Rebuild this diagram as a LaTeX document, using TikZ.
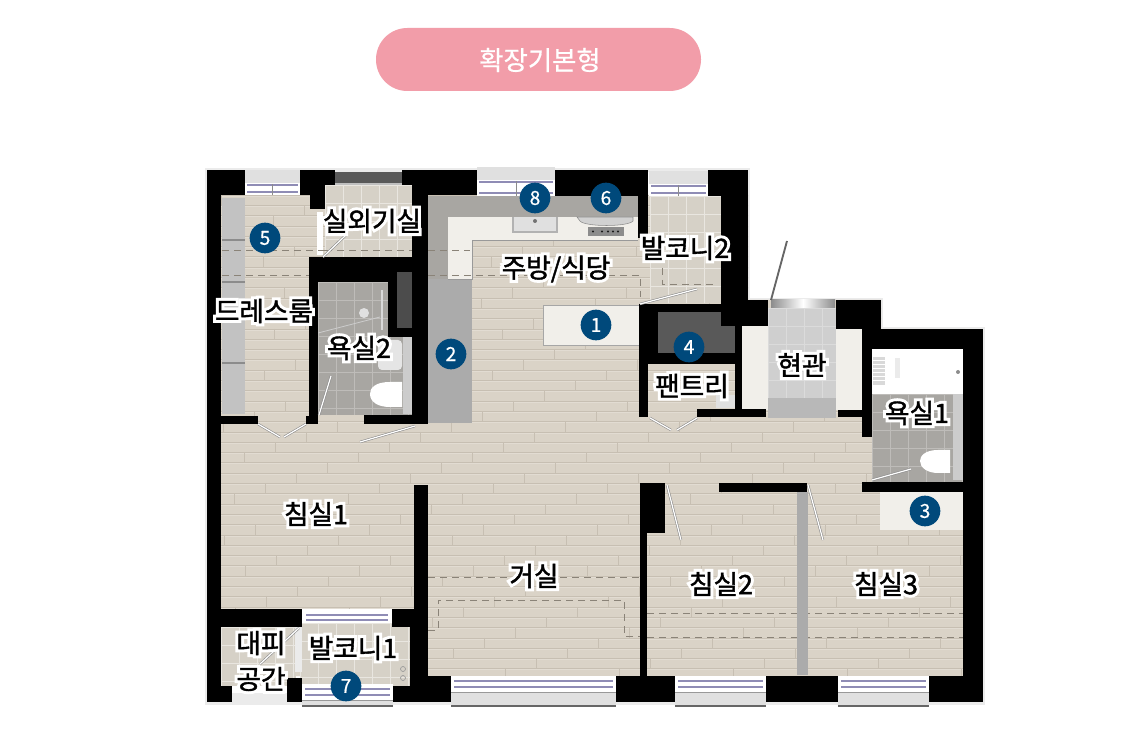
\documentclass[tikz,border=0pt]{standalone}
\usepackage{fontspec}
\setmainfont{Noto Sans CJK KR}[FakeBold=1.5]
\newfontfamily\plainkr{Noto Sans CJK KR}[FakeBold=0.6]
\newfontfamily\halofont{Noto Sans CJK KR}[FakeBold=24]
\usetikzlibrary{calc}
\definecolor{floorc}{HTML}{DAD3C7}
\definecolor{plank}{HTML}{C7BFB2}
\definecolor{plankhi}{HTML}{E2DCD2}
\definecolor{balc}{HTML}{D6D1C7}
\definecolor{bathc}{HTML}{A8A6A2}
\definecolor{countergray}{HTML}{A8A6A2}
\definecolor{whitec}{HTML}{F1EFEA}
\definecolor{badgec}{HTML}{00497B}
\definecolor{pillc}{HTML}{F29DA9}
\definecolor{glassline}{HTML}{8F8CB5}
\definecolor{dashc}{HTML}{8A8378}
\newcommand\halo[1]{\rlap{\halofont\color{white}#1}#1}
\newcommand\R[5]{\fill[#1] (#2,#3) rectangle (#4,#5);}
\newcommand\tiles[6]{\begin{scope}\clip (#1,#2) rectangle (#3,#4);\fill[#5] (#1,#2) rectangle (#3,#4);
 \foreach \k in {0,...,9}{\draw[#6,line width=.5pt] ({#1+\k*18},#2) -- ({#1+\k*18},#4);\draw[#6,line width=.5pt] (#1,{#2+\k*18}) -- (#3,{#2+\k*18});}\end{scope}}
\newcommand\topwin[4]{\R{black!12}{#1}{#3}{#2}{#3+13}\R{white}{#1}{#3+13}{#2}{#4}
 \draw[glassline,line width=.8pt] (#1+2,#3+15) -- (#2-2,#3+15) (#1+2,#4-3) -- (#2-2,#4-3);
 \draw[black!45,line width=.5pt] ({(#1+#2)/2},#3+14) -- ({(#1+#2)/2},#4);}
\newcommand\botwin[4]{\R{white}{#1}{#3}{#2}{#3+17}\R{black!12}{#1}{#3+17}{#2}{#4}
 \draw[glassline,line width=.8pt] (#1+3,#3+5) -- (#2-3,#3+5) (#1+3,#3+11) -- (#2-3,#3+11);
 \draw[black!40,line width=.6pt] (#1,#3+16) -- (#2,#3+16);
 \draw[black!60,line width=1pt] (#1,#4) -- (#2,#4);}
\tikzset{
 lab/.style={font=\fontsize{20}{27}\selectfont,text=black,inner sep=0pt,align=center},
 badge/.style={circle,fill=badgec,text=white,minimum size=23pt,inner sep=0pt,font=\plainkr\fontsize{14.5}{14.5}\selectfont},
 door/.style={draw=black!45,double=white,double distance=.9pt,line width=.45pt},
 dashl/.style={draw=dashc,line width=.6pt,dash pattern=on 5pt off 4pt},
 wall/.style={fill=black},
}
\begin{document}
\begin{tikzpicture}[x=0.75pt,y=-0.75pt]
\useasboundingbox (0,0) rectangle (1133,752);
\fill[white] (0,0) rectangle (1133,752);
% title pill
\fill[pillc,rounded corners=23.5pt] (376,28) rectangle (701,91);
\node[inner sep=0pt,text=white,font=\plainkr\fontsize{19.8}{20}\selectfont] (title) at (540,60) {확장기본형};
% soft outer edge
\draw[black!8,line width=2.5pt] (207,170)--(748,170)--(748,300)--(881,300)--(881,329)--(983,329)--(983,703)--(207,703)--cycle;
% floor with planks
\begin{scope}
\clip (221,195)--(748,195)--(748,300)--(881,300)--(881,329)--(965,329)--(965,676)--(221,676)--cycle;
\fill[floorc] (207,170) rectangle (983,702);
\foreach \r in {0,...,47}{
 \pgfmathsetmacro\yy{195+\r*10.3}
 \pgfmathsetmacro\off{mod(\r*83,114)}
 \draw[plankhi,line width=.5pt] (221,\yy+1) -- (965,\yy+1);
 \draw[plank,line width=.5pt] (221,\yy) -- (965,\yy);
 \foreach \k in {-1,...,6}{
  \pgfmathsetmacro\xx{221+\off+\k*114}
  \draw[plank,line width=.5pt] (\xx,\yy) -- (\xx,\yy+10.3);
 }
}
\end{scope}
% tiled rooms
\tiles{325}{185}{412}{257}{balc}{white!45!balc}
\tiles{650}{196}{721}{303}{balc}{white!45!balc}
\tiles{300}{623}{410}{686}{balc}{white!45!balc}
\tiles{221}{627}{296}{686}{balc}{white!45!balc}
\tiles{318}{282}{412}{415}{bathc}{white!25!bathc}
\tiles{872}{394}{963}{482}{bathc}{white!25!bathc}
\tiles{768}{308}{836}{398}{black!19}{white!25!black!19}
\R{black!28}{768}{398}{836}{418}
\shade[left color=black!45,right color=black!45,middle color=white] (771,300) rectangle (835,308);
% partition between refuge and balcony
\R{black!8}{295}{627}{302}{672}
% dressing closet
\R{black!24}{222}{198}{245}{414}
\foreach \yy in {240,282,363}{\draw[black!45,line width=.8pt] (222,\yy) -- (245,\yy);}
\R{white}{317}{212}{323}{255}
% kitchen counters
\R{countergray}{428}{196}{638}{217}
\R{countergray}{428}{196}{448}{279}
\R{black!33}{428}{279}{472}{423}
\R{whitec}{448}{217}{638}{240}
\R{whitec}{448}{217}{472}{279}
\draw[black!40,line width=.5pt] (638,240)--(472,240)--(472,279)--(448,279);
\R{whitec}{543}{305}{639}{345}
\draw[black!35,line width=.6pt] (543,345)--(543,305)--(639,305) (543,345)--(639,345);
% kitchen fixtures
\fill[black!30] (512,217) rectangle (558,233);
\fill[black!12] (514,217) rectangle (556,231);
\fill[black!55] (535,221) circle (2);
\fill[black!18] (577,217) -- (633,217) -- (633,221) .. controls (628,227) and (585,227) .. (580,221) -- cycle;
\draw[black!45,line width=.4pt] (577,217) -- (633,217) -- (633,221) .. controls (628,227) and (585,227) .. (580,221) -- cycle;
\fill[black!45] (588,227) rectangle (624,236);
\foreach \xx in {593,602,608,613,618}{\fill[black!90] (\xx,231.5) circle (1.2);}
% closets and special areas
\fill[black!65] (658,312) rectangle (735,353);
\R{whitec}{742}{326}{768}{410}
\R{whitec}{836}{326}{862}{410}
\R{whitec}{880}{492}{964}{530}
% shaft in bath 2
\fill[black!70] (397,272) rectangle (420,328);
% bath 2 fixtures
\R{black!20}{403}{337}{412}{414}
\fill[white] (402,382) -- (390,382) .. controls (375,382) and (370,388) .. (370,394) .. controls (370,402) and (378,407) .. (390,407) -- (402,407) -- cycle;
\fill[black!10,rounded corners=3pt] (378,340) rectangle (402,370);
\fill[black!12] (364,313) circle (5);
\draw[black!15,line width=1.5pt] (382,290) -- (382,330);
\draw[black!20,line width=.6pt] (318,333) -- (380,317);
% bath 1 fixtures
\R{white}{872}{349}{963}{394}
\fill[black!15] (873,357) rectangle (885,385);
\foreach \yy in {360,364,368,372,376,380}{\draw[white,line width=.5pt] (873,\yy) -- (885,\yy);}
\fill[black!8] (895,358) rectangle (900,378);
\fill[black!45] (958,372) circle (2);
\R{black!20}{953}{394}{963}{480}
\fill[white] (950,450) -- (938,450) .. controls (925,450) and (920,456) .. (920,461) .. controls (920,468) and (928,473) .. (938,473) -- (950,473) -- cycle;
% pantry small unit
\R{black!12}{716}{395}{735}{408}
% balcony 1 drain
\draw[black!40,line width=.5pt] (403,669) circle (2.5) (403,678) circle (2.5);
% dashed lines
\draw[dashl] (222,250) -- (325,250) (325,250) -- (412,250);
\draw[dashl] (222,275) -- (309,275);
\draw[dashl] (428,250) -- (470,250);
\draw[dashl] (428,275) -- (640,275) -- (640,297);
\draw[dashl] (662,268) -- (662,284) -- (716,284);
\draw[dashl] (428,577) -- (640,577);
\draw[dashl] (428,630) -- (438,630) -- (438,600) -- (624,600) -- (624,636) -- (640,636);
\draw[dashl] (647,613) -- (965,613);
\draw[dashl] (647,637) -- (965,637);
% partition
\R{black!33}{797}{492}{808}{675}
% walls
\begin{scope}[every path/.style={wall}]
\fill (207,170) rectangle (245,195);
\fill (207,170) rectangle (221,702);
\fill (300,170) rectangle (335,185);
\fill (300,185) rectangle (325,195);
\fill (310,195) rectangle (325,209);
\fill (402,170) rectangle (477,185);
\fill (412,185) rectangle (477,195);
\fill (412,185) rectangle (428,424);
\fill (309,257) rectangle (428,272);
\fill (309,272) rectangle (397,282);
\fill (309,257) rectangle (318,424);
\fill (388,282) rectangle (397,337);
\fill (388,328) rectangle (428,337);
\fill (412,337) rectangle (428,424);
\fill (364,415) rectangle (428,424);
\fill (221,416) rectangle (258,424);
\fill (306,416) rectangle (318,424);
\fill (555,170) rectangle (648,196);
\fill (638,196) rectangle (648,238);
\fill (708,170) rectangle (748,196);
\fill (721,196) rectangle (748,326);
\fill (639,304) rectangle (723,312);
\fill (639,304) rectangle (658,353);
\fill (639,353) rectangle (648,417);
\fill (639,353) rectangle (742,364);
\fill (723,300) rectangle (768,326);
\fill (735,326) rectangle (742,417);
\fill (697,409) rectangle (766,417);
\fill (836,300) rectangle (881,329);
\fill (862,326) rectangle (872,437);
\fill (838,410) rectangle (862,417);
\fill (862,329) rectangle (983,349);
\fill (963,329) rectangle (983,702);
\fill (862,482) rectangle (965,492);
\fill (640,483) rectangle (665,533);
\fill (640,483) rectangle (647,676);
\fill (719,483) rectangle (807,492);
\fill (414,485) rectangle (428,676);
\fill (221,609) rectangle (302,627);
\fill (392,609) rectangle (428,627);
\fill (410,627) rectangle (428,676);
\fill (207,686) rectangle (232,702);
\fill (287,678) rectangle (302,702);
\fill (393,686) rectangle (452,702);
\fill (410,676) rectangle (452,686);
\fill (616,676) rectangle (675,702);
\fill (766,676) rectangle (838,702);
\fill (929,676) rectangle (983,702);
\fill (721,312) rectangle (735,325);
\end{scope}
% windows
\topwin{245}{300}{170}{195}
\topwin{477}{555}{167}{196}
\topwin{649}{708}{171}{196}
\fill[black!65] (335,172) rectangle (402,183);
\draw[black!25,line width=1.5pt] (335,184) -- (402,184);
\botwin{451}{616}{676}{706}
\botwin{675}{766}{676}{706}
\botwin{838}{929}{676}{706}
\botwin{302}{393}{684}{706}
\R{white}{302}{609}{392}{623}
\draw[glassline,line width=.8pt] (306,615) -- (388,615) (306,620) -- (388,620);
\R{black!8}{232}{693}{287}{702}
% door leaves
\coordinate (d1a) at (258,424); \coordinate (d1b) at (280,437);
\coordinate (d2a) at (306,424); \coordinate (d2b) at (284,437);
\coordinate (d3a) at (319,415); \coordinate (d3b) at (331,376);
\coordinate (d4a) at (415,426); \coordinate (d4b) at (360,442);
\coordinate (d5a) at (323,257); \coordinate (d5b) at (346,235);
\coordinate (d6a) at (640,304); \coordinate (d6b) at (697,289);
\coordinate (d7a) at (650,418); \coordinate (d7b) at (671,430);
\coordinate (d8a) at (697,418); \coordinate (d8b) at (677,430);
\coordinate (d9a) at (872,480); \coordinate (d9b) at (911,469);
\coordinate (d10a) at (667,485); \coordinate (d10b) at (681,540);
\coordinate (d11a) at (808,485); \coordinate (d11b) at (823,540);
\coordinate (d12a) at (299,628); \coordinate (d12b) at (260,664);
\coordinate (ent1) at (771,300); \coordinate (ent2) at (787,241);
\foreach \a/\b in {d1a/d1b,d2a/d2b,d3a/d3b,d4a/d4b,d5a/d5b,d6a/d6b,d7a/d7b,d8a/d8b,d9a/d9b,d10a/d10b,d11a/d11b,d12a/d12b}{\draw[door] (\a) -- (\b);}
\draw[black!60,line width=1.4pt] (ent1) -- (ent2);
% labels
\node[lab] (l1) at (372,221) {\halo{실외기실}};
\node[lab] (l2) at (264,311) {\halo{드레스룸}};
\node[lab] (l3) at (359,348) {\halo{욕실2}};
\node[lab] (l4) at (556,269) {\halo{주방/식당}};
\node[lab] (l5) at (685,248) {\halo{발코니2}};
\node[lab] (l6) at (692,386) {\halo{팬트리}};
\node[lab] (l7) at (802,365) {\halo{현관}};
\node[lab] (l8) at (917,413) {\halo{욕실1}};
\node[lab] (l9) at (316,514) {\halo{침실1}};
\node[lab] (l10) at (534,576) {\halo{거실}};
\node[lab] (l11) at (721,584) {\halo{침실2}};
\node[lab] (l12) at (886,584) {\halo{침실3}};
\node[lab] (l13) at (261,661) {\halo{대피}\\\halo{공간}};
\node[lab] (l14) at (353,648) {\halo{발코니1}};
% numbered badges
\node[badge] (b1) at (596,325) {1};
\node[badge] (b2) at (451,354) {2};
\node[badge] (b3) at (925,511) {3};
\node[badge] (b4) at (689,347) {4};
\node[badge] (b5) at (265,238) {5};
\node[badge] (b6) at (606,198) {6};
\node[badge] (b7) at (346,686) {7};
\node[badge] (b8) at (535,198) {8};
\end{tikzpicture}
\end{document}
